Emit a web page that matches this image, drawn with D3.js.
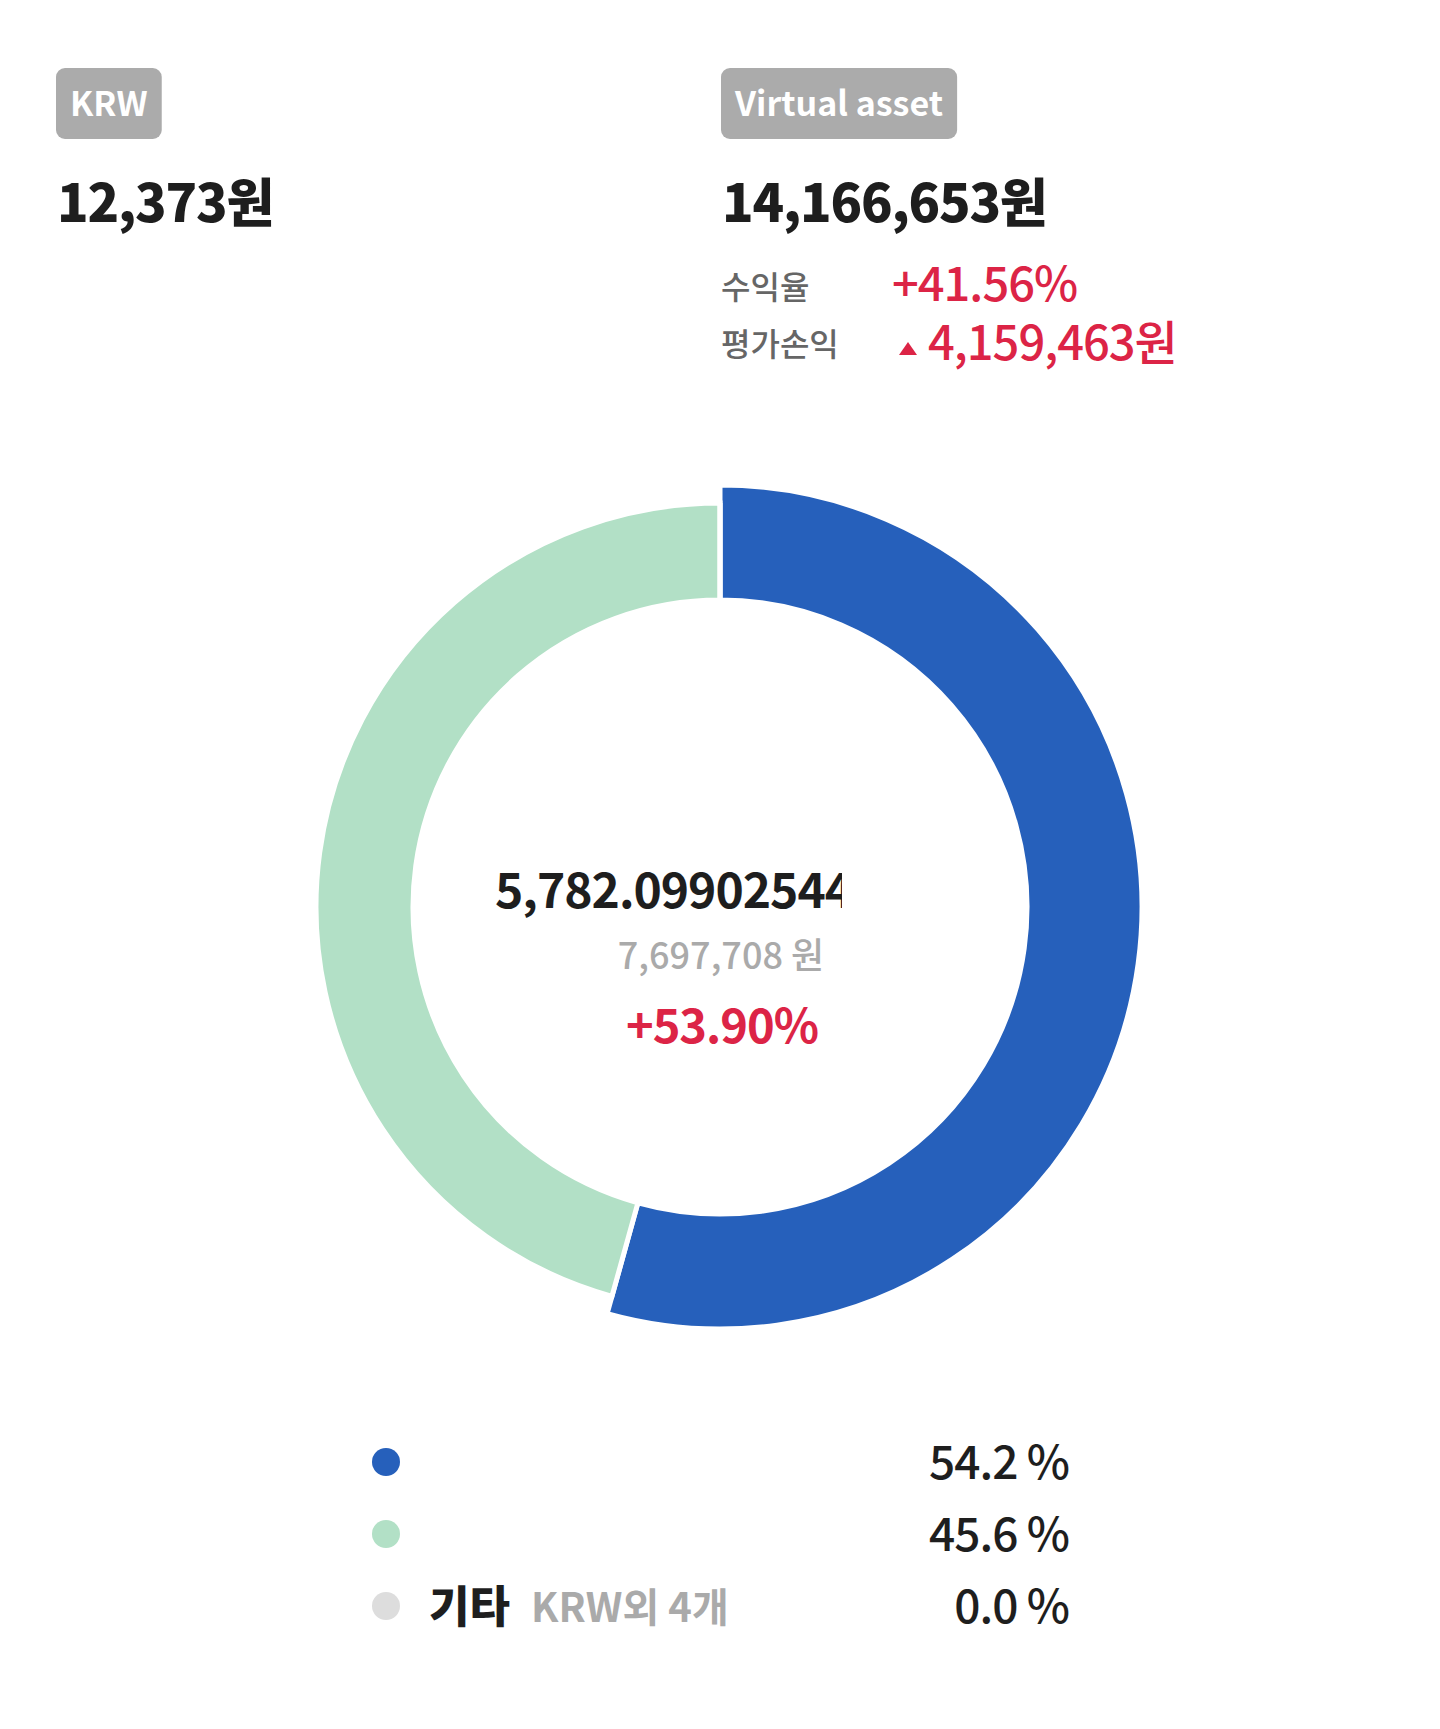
<!DOCTYPE html>
<html>
<head>
<meta charset="utf-8">
<script src="https://cdn.jsdelivr.net/npm/d3@7"></script>
<style>
  body { margin: 0; background: #fff; }
  svg text { font-family: "Noto Sans CJK KR", "Noto Sans", sans-serif; }
</style>
</head>
<body>
<div id="wrapper"></div>
<script>
// Data
const categories = ["", "", "기타"];
const subLabels = ["", "", "KRW외 4개"];
const shares = [54.2, 45.6, 0.0];
const sliceColors = ["#2660bb", "#b2e0c6", "#dddddd"];
const selectedIndex = 0;

const krwTotal = "12,373원";
const assetTotal = "14,166,653원";
const returnRate = "+41.56%";
const profit = "4,159,463원";

const centerAmount = "5,782.09902544";
const centerKrw = "7,697,708 원";
const centerRate = "+53.90%";

const width = 1440;
const height = 1729;
const red = "#dc2446";
const colX = 721;

const svg = d3.select("#wrapper").append("svg")
  .attr("width", width)
  .attr("height", height);

// Badge + top summary
function badge(x, y, label) {
  const g = svg.append("g").attr("transform", `translate(${x},${y})`);
  const rect = g.append("rect").attr("rx", 9).attr("ry", 9).attr("fill", "#ababab");
  const t = g.append("text")
    .attr("x", 14).attr("y", 48)
    .attr("font-size", 34).attr("font-weight", 700)
    .attr("fill", "#fff")
    .text(label);
  const w = t.node().getComputedTextLength();
  rect.attr("width", w + 28).attr("height", 71);
}
badge(56, 68, "KRW");
badge(colX, 68, "Virtual asset");

svg.append("text").attr("x", 57).attr("y", 222)
  .attr("font-size", 52).attr("font-weight", 900).attr("fill", "#1e1e1e")
  .attr("letter-spacing", -1.2)
  .text(krwTotal);
svg.append("text").attr("x", colX + 1).attr("y", 222)
  .attr("font-size", 52).attr("font-weight", 900).attr("fill", "#1e1e1e")
  .attr("letter-spacing", -1.2)
  .text(assetTotal);

svg.append("text").attr("x", colX).attr("y", 299)
  .attr("font-size", 32).attr("font-weight", 500).attr("fill", "#666")
  .text("수익율");
svg.append("text").attr("x", 892).attr("y", 301)
  .attr("font-size", 47).attr("font-weight", 500).attr("fill", red)
  .attr("letter-spacing", -1)
  .text(returnRate);
svg.append("text").attr("x", colX).attr("y", 356)
  .attr("font-size", 32).attr("font-weight", 500).attr("fill", "#666")
  .text("평가손익");
svg.append("path")
  .attr("d", "M899,355 L908,342 L917,355 Z")
  .attr("fill", red);
svg.append("text").attr("x", 928).attr("y", 360)
  .attr("font-size", 47).attr("font-weight", 500).attr("fill", red)
  .attr("letter-spacing", -1)
  .text(profit);

// Donut
const cx = 720, cy = 907;
const innerR = 307, outerR = 404, selectedR = 422;

const pie = d3.pie().sort(null).value(d => d);
const arcs = pie(shares);
const arc = d3.arc().innerRadius(innerR);

const donut = svg.append("g").attr("transform", `translate(${cx},${cy})`);
donut.selectAll("path")
  .data(arcs)
  .join("path")
  .attr("d", (d, i) => arc.outerRadius(i === selectedIndex ? selectedR : outerR)(d))
  .attr("fill", (d, i) => sliceColors[i])
  .attr("stroke", "#fff")
  .attr("stroke-width", 5);

// Center labels (amount is cut off by its box, like in the app)
svg.append("clipPath").attr("id", "centerClip")
  .append("rect").attr("x", 480).attr("y", 850).attr("width", 362).attr("height", 80);
svg.append("text").attr("x", 495).attr("y", 908)
  .attr("clip-path", "url(#centerClip)")
  .attr("font-size", 48).attr("font-weight", 700).attr("fill", "#1e1e1e")
  .attr("letter-spacing", -1)
  .text(centerAmount);
svg.append("text").attr("x", cx + 1).attr("y", 969)
  .attr("text-anchor", "middle")
  .attr("font-size", 36).attr("font-weight", 500).attr("fill", "#aaa")
  .text(centerKrw);
svg.append("text").attr("x", cx + 2).attr("y", 1043)
  .attr("text-anchor", "middle")
  .attr("font-size", 47).attr("font-weight", 700).attr("fill", red)
  .attr("letter-spacing", -1)
  .text(centerRate);

// Legend
const legendY = d3.scalePoint().domain(d3.range(shares.length)).range([1468, 1612]);
const legend = svg.append("g").attr("transform", "translate(0,-6)");
const rows = legend.selectAll("g")
  .data(shares)
  .join("g")
  .attr("transform", (d, i) => `translate(0,${legendY(i)})`);
rows.append("circle").attr("cx", 386).attr("r", 14)
  .attr("fill", (d, i) => sliceColors[i]);
rows.append("text").attr("x", 429).attr("y", 17)
  .attr("font-size", 44).attr("font-weight", 900).attr("fill", "#1e1e1e")
  .text((d, i) => categories[i]);
rows.append("text").attr("x", 531).attr("y", 16)
  .attr("font-size", 40).attr("font-weight", 700).attr("fill", "#aaa")
  .text((d, i) => subLabels[i]);
rows.append("text").attr("x", 1069).attr("y", 17)
  .attr("text-anchor", "end")
  .attr("font-size", 46).attr("font-weight", 500).attr("fill", "#1e1e1e")
  .attr("letter-spacing", -1)
  .text(d => d3.format(".1f")(d) + " %");
</script>
</body>
</html>
